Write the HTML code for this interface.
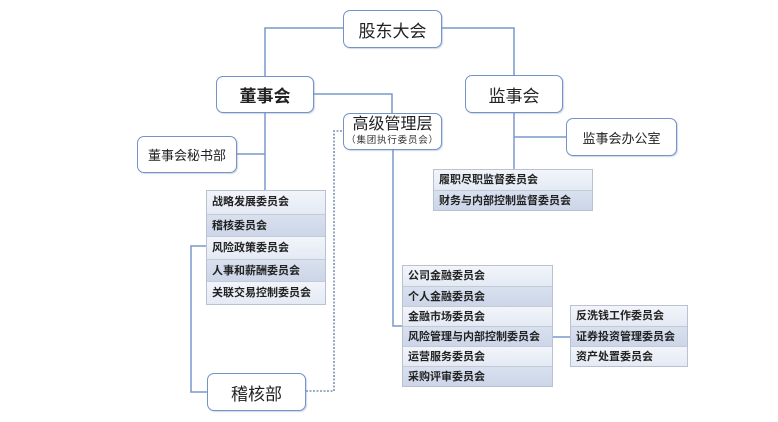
<!DOCTYPE html>
<html><head><meta charset="utf-8"><style>
body{margin:0;background:#fff;}
#c{position:relative;width:778px;height:422px;overflow:hidden;background:#fff;font-family:"Liberation Sans","Noto Sans CJK SC",sans-serif;}
.b{position:absolute;box-sizing:border-box;border:1.5px solid #7393c9;border-radius:7px;background:#fff;display:flex;align-items:center;justify-content:center;color:#222;box-shadow:1px 1px 1px rgba(120,140,180,0.35);}
.t{position:absolute;box-sizing:border-box;border:1px solid #b9c2d2;}
.t div{box-sizing:border-box;height:20px;line-height:20px;padding-left:5px;font-size:11px;font-weight:bold;color:#222;border-top:1px solid #c4cbd8;white-space:nowrap;}
.t div:first-child{border-top:none;}
.l{background:linear-gradient(#f2f5fa,#e4eaf4);}
.d{background:linear-gradient(#d9e1ef,#ccd6e8);}
svg{position:absolute;left:0;top:0;}
</style></head><body><div id="c">
<svg width="778" height="422">
<g stroke="#7a98cc" stroke-width="1.5" fill="none">
<polyline points="343,28 265,28 265,76"/>
<polyline points="442,28 514,28 514,75"/>
<polyline points="314,94 392,94 392,113"/>
<line x1="265" y1="113" x2="265" y2="190"/>
<line x1="237" y1="154" x2="265" y2="154"/>
<polyline points="514,113 514,169"/>
<line x1="514" y1="137" x2="566" y2="137"/>
<polyline points="206,246 191,246 191,392 207,392"/>
<polyline points="393,150 393,326 402,326"/>
<line x1="553" y1="337" x2="570" y2="337"/>
</g>
<polyline points="306,391 334,391 334,131 343,131" stroke="#7f93b8" stroke-width="1.6" stroke-dasharray="2,1.5" fill="none"/>
</svg>
<div class="b" style="left:343px;top:10px;width:99px;height:38px;font-size:17px;">股东大会</div>
<div class="b" style="left:216px;top:76px;width:98px;height:37px;font-size:17px;font-weight:bold;">董事会</div>
<div class="b" style="left:465px;top:75px;width:98px;height:38px;font-size:17px;">监事会</div>
<div class="b" style="left:343px;top:113px;width:99px;height:37px;flex-direction:column;line-height:1;">
<span style="font-size:16px;">高级管理层</span><span style="font-size:9.5px;margin-top:3px;color:#333;letter-spacing:0.8px;">（集团执行委员会）</span></div>
<div class="b" style="left:137px;top:136px;width:100px;height:37px;font-size:13px;">董事会秘书部</div>
<div class="b" style="left:566px;top:118px;width:111px;height:38px;font-size:13px;">监事会办公室</div>
<div class="b" style="left:207px;top:373px;width:99px;height:38px;font-size:17px;">稽核部</div>
<div class="t" style="left:433px;top:169px;width:160px;">
<div class="l">履职尽职监督委员会</div><div class="d">财务与内部控制监督委员会</div></div>
<div class="t" style="left:206px;top:190px;width:120px;">
<div class="l" style="height:22.6px;line-height:22px;">战略发展委员会</div>
<div class="d" style="height:22.6px;line-height:22px;">稽核委员会</div>
<div class="l" style="height:22.6px;line-height:22px;">风险政策委员会</div>
<div class="d" style="height:22.6px;line-height:22px;">人事和薪酬委员会</div>
<div class="l" style="height:22.6px;line-height:22px;">关联交易控制委员会</div></div>
<div class="t" style="left:402px;top:265px;width:151px;">
<div class="l">公司金融委员会</div><div class="d">个人金融委员会</div><div class="l">金融市场委员会</div>
<div class="d">风险管理与内部控制委员会</div><div class="l">运营服务委员会</div><div class="d">采购评审委员会</div></div>
<div class="t" style="left:570px;top:305px;width:118px;">
<div class="l">反洗钱工作委员会</div><div class="d">证券投资管理委员会</div><div class="l">资产处置委员会</div></div>
</div></body></html>
